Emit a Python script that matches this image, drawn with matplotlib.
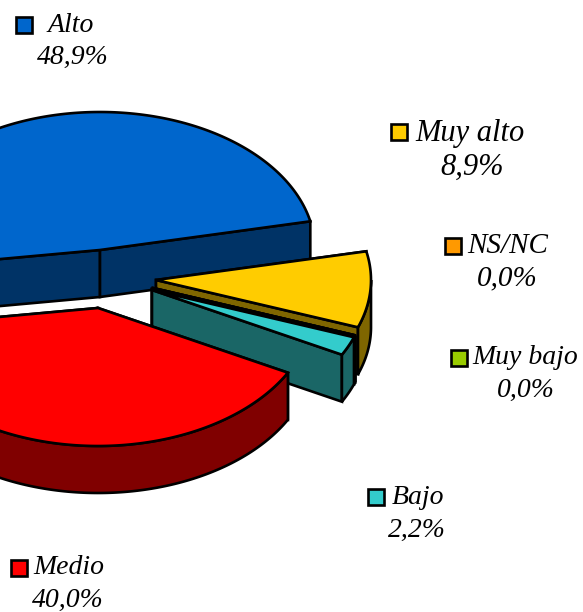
import numpy as np
import matplotlib
matplotlib.use('Agg')
import matplotlib.pyplot as plt
from matplotlib.patches import Polygon, Rectangle

labels = ['Alto', 'Medio', 'Bajo', 'Muy bajo', 'NS/NC', 'Muy alto']
shares = [48.9, 40.0, 2.2, 0.0, 0.0, 8.9]
share_text = ['48,9%', '40,0%', '2,2%', '0,0%', '0,0%', '8,9%']
top_colors = ['#0066cc', '#ff0000', '#33cccc', '#99cc00', '#ff9900', '#ffcc00']
side_colors = ['#003366', '#800000', '#1a6666', '#4d6600', '#7f4c00', '#7f6600']
font_sizes = [20, 20, 20, 20, 21, 22]

# pie geometry in pixels
rx = 215
ry = 138
depth = 47
start = 12.0
apex = {'Alto': (100, 250), 'Medio': (98, 308), 'Bajo': (152, 290),
        'Muy bajo': (152, 289), 'NS/NC': (153, 288), 'Muy alto': (156, 280)}

# swatch left/top, label left/middle, value centre/middle
legend_pos = {'Alto': ((16, 17), (48, 25), (73, 57)),
              'Medio': ((11, 560), (33, 568), (68, 600)),
              'Bajo': ((368, 489), (392, 497), (417, 530)),
              'Muy bajo': ((451, 350), (472, 358), (526, 390)),
              'NS/NC': ((445, 238), (467, 246), (507, 278)),
              'Muy alto': ((391, 124), (415, 133), (472, 167))}

fig = plt.figure(figsize=(5.83, 6.12), dpi=100)
ax = fig.add_axes([0, 0, 1, 1])
ax.set_xlim(0, 583)
ax.set_ylim(612, 0)
ax.axis('off')

font = dict(family='Liberation Serif', style='italic', color='black', va='center')
LW = 1.9


def rim(c, t0, t1):
    t = np.radians(np.linspace(t0, t1, 200))
    return np.column_stack((c[0] + rx * np.cos(t), c[1] - ry * np.sin(t)))


def add_poly(pts, color):
    ax.add_patch(Polygon(pts, closed=True, fc=color, ec='black', lw=LW, joinstyle='miter'))


def draw_slice(name, t0, t1, top, side):
    c = np.array(apex[name], dtype=float)
    arc = rim(c, t0, t1)
    down = np.array([0, depth])
    # far cut face, near cut face, outer wall, then top
    add_poly([c, arc[-1], arc[-1] + down, c + down], side)
    add_poly([c, arc[0], arc[0] + down, c + down], side)
    if t1 > 180 and t0 < 360:
        wall = rim(c, max(t0, 180), min(t1, 360))
        add_poly(np.vstack((wall, (wall + down)[::-1])), side)
    add_poly(np.vstack(([c], arc)), top)


angles = {}
t = start
for name, s in zip(labels, shares):
    angles[name] = (t, t + s / 100 * 360)
    t = t + s / 100 * 360

# back to front
for name in ['Alto', 'Muy alto', 'NS/NC', 'Muy bajo', 'Bajo', 'Medio']:
    i = labels.index(name)
    draw_slice(name, angles[name][0], angles[name][1], top_colors[i], side_colors[i])

for i, name in enumerate(labels):
    sw, lab, val = legend_pos[name]
    ax.add_patch(Rectangle(sw, 16, 16, fc=top_colors[i], ec='black', lw=LW))
    ax.text(lab[0], lab[1], name, ha='left', fontsize=font_sizes[i], **font)
    ax.text(val[0], val[1], share_text[i], ha='center', fontsize=font_sizes[i], **font)

fig.savefig('out.png', dpi=100)
